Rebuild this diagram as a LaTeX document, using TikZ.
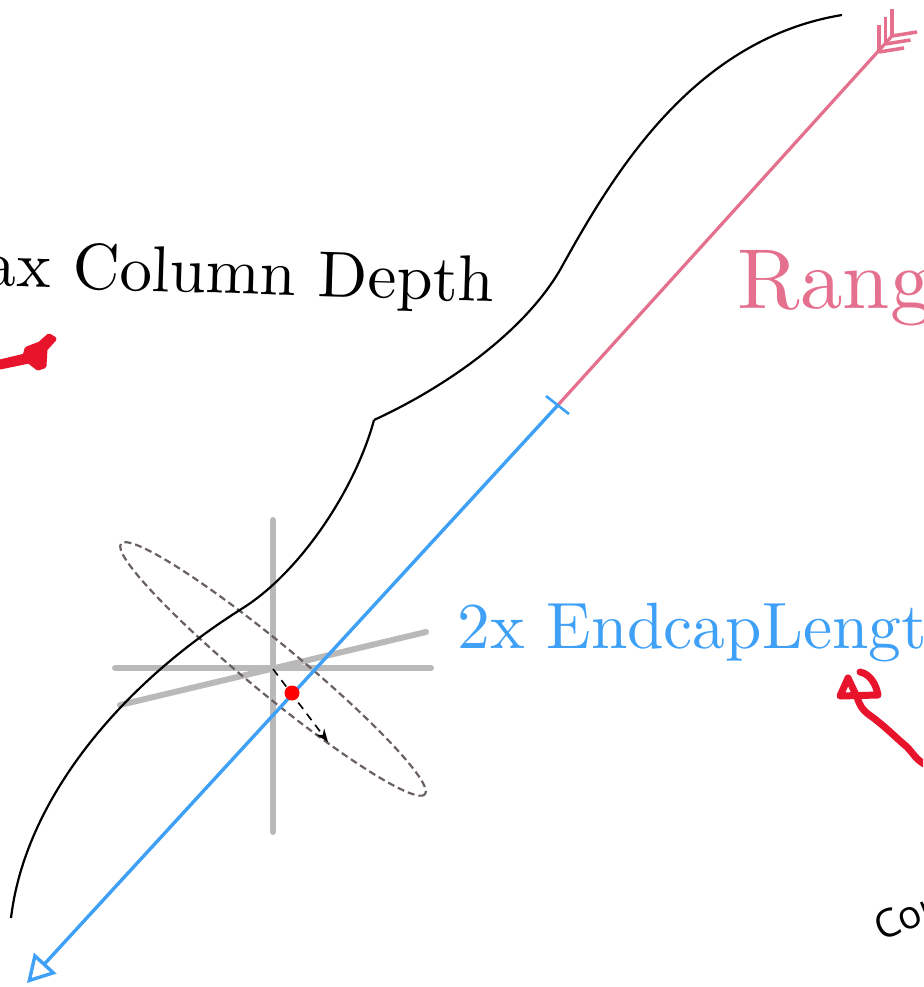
\documentclass[tikz,border=0pt]{standalone}
\usepackage{fontspec}
\newfontfamily\notefont{Open Sans}
\usetikzlibrary{arrows.meta,positioning,calc}
\definecolor{rangepink}{HTML}{E5708E}
\definecolor{capblue}{HTML}{3FA0F8}
\definecolor{axisgray}{HTML}{B9B9B9}
\definecolor{coneline}{HTML}{6A6060}
\definecolor{penred}{HTML}{E8142C}
\begin{document}
\begin{tikzpicture}[x=1pt,y=-1pt,
axisline/.style={axisgray,line width=6pt,line cap=round},
rangeline/.style={rangepink,line width=3.2pt},
capline/.style={capblue,line width=3.4pt},
penline/.style={penred,line width=7pt,line cap=round,line join=round},
biglabel/.style={inner sep=0pt}]
\useasboundingbox (0,0) rectangle (923,987);
\clip (0,0) rectangle (923,987);
\coordinate (hit) at (292,693);
\coordinate (cen) at (273,669);
\coordinate (capend) at (558,405);
\coordinate (rangeend) at (892,36);
\coordinate (captip) at (27,983);
\coordinate (ellipsetip) at (328,742);
\draw[axisline] (273,520) -- (273,832);
\draw[axisline] (115,668) -- (431,668);
\draw[axisline] (120,705) -- (426,632);
\draw[coneline,line width=2.2pt,dash pattern=on 7pt off 4pt,rotate around={-39.5:(cen)}] (cen) ellipse [x radius=197,y radius=25];
\draw[black,line width=2.2pt] (11,918) .. controls (25,800) and (120,685) .. (243,608) .. controls (300,572) and (355,490) .. (374,420);
\draw[black,line width=2.2pt] (374,420) .. controls (450,385) and (525,330) .. (560,270) .. controls (610,180) and (690,40) .. (842,15);
\draw[capline,-{Triangle[open,length=27pt,width=30pt,line width=3.4pt]}] (capend) -- (captip);
\draw[rangeline] (capend) -- (rangeend);
\draw[capblue,line width=2.6pt] (546,396) -- (569,414);
\foreach \i in {0,1,2} {
\draw[rangeline,line width=3.5pt] ($(879,52)+(\i*6.5,-\i*8)$) coordinate (apex\i) -- ++(0,-27);
\draw[rangeline,line width=3.5pt] (apex\i) -- ++(25,-4);
}
\draw[black,line width=1.6pt,dash pattern=on 8pt off 6pt,-{Stealth[length=13pt,width=10pt]}] (cen) -- (ellipsetip);
\node[circle,fill=red,inner sep=0pt,minimum size=15pt] (dot) at (hit) {};
\node[biglabel,anchor=base east,rotate=-1.8,scale=6.5] (depthlabel) at (495,302) {Max Column Depth};
\node[biglabel,anchor=base west,text=rangepink,scale=8.5] (rangelabel) at (736,308) {Range};
\node[biglabel,anchor=base west,text=capblue,scale=6.55] (caplabel) at (456,648) {2x EndcapLength};
\node[biglabel,anchor=base west,rotate=23] (notelabel) at (881,942) {\fontsize{39}{39}\notefont Cor};
\fill[penred,draw=penred,line width=5pt,line join=round] (0,362) -- (25,356) -- (27,349) -- (40,344) -- (49,336) -- (54,339) -- (45,349) -- (44,366) -- (38,368) -- (29,361) -- (0,367) -- cycle;
\draw[penline] (860,672) .. controls (870,674) and (876,684) .. (878,695) -- (840,696) -- (848,678) -- (857,697) .. controls (860,706) and (862,709) .. (868,714) .. controls (885,726) and (895,737) .. (907,747) .. controls (913,753) and (916,760) .. (926,765);
\end{tikzpicture}
\end{document}
